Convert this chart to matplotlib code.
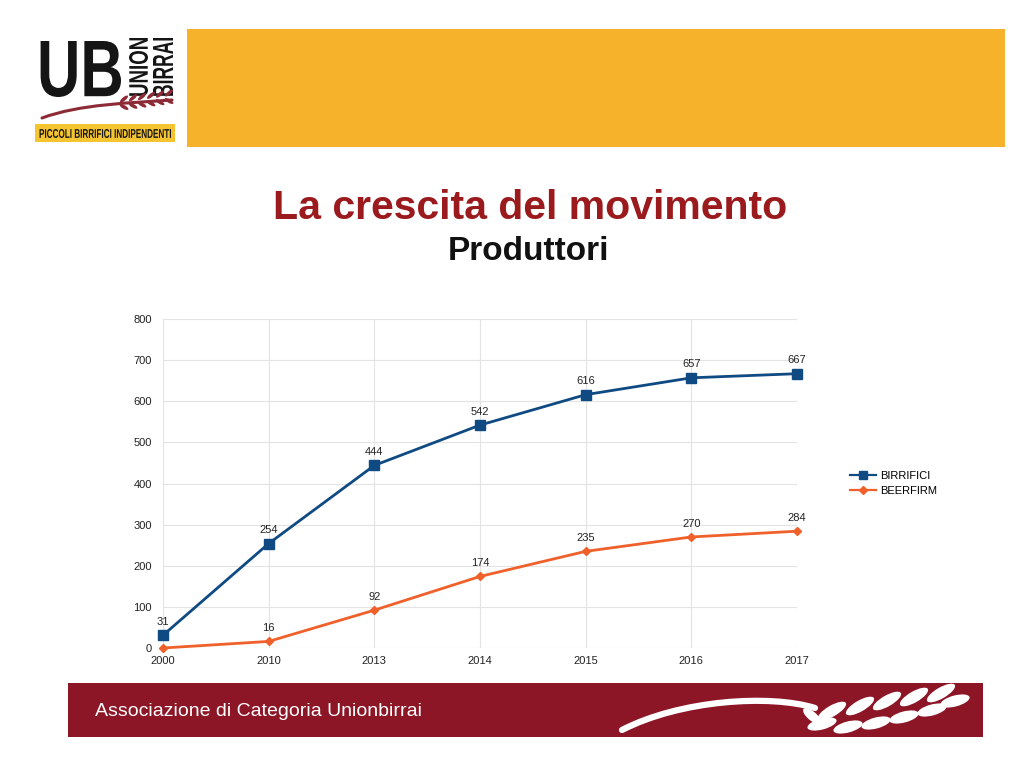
import matplotlib
matplotlib.use("Agg")
import matplotlib.pyplot as plt
from matplotlib.path import Path
from matplotlib.patches import PathPatch, Rectangle, Ellipse
from matplotlib.lines import Line2D
from matplotlib.textpath import TextPath
from matplotlib.font_manager import FontProperties
from matplotlib.transforms import Affine2D
import numpy as np

plt.rcParams['font.family'] = ['Liberation Sans', 'DejaVu Sans']

years = ["2000", "2010", "2013", "2014", "2015", "2016", "2017"]
birrifici = [31, 254, 444, 542, 616, 657, 667]
beerfirm = [0, 16, 92, 174, 235, 270, 284]
series_names = ["BIRRIFICI", "BEERFIRM"]
colors = ["#0f4a82", "#f0602a"]
y_ticks = [0, 100, 200, 300, 400, 500, 600, 700, 800]

W, H = 1024, 767
fig = plt.figure(figsize=(W / 100, H / 100), dpi=100)
fig.patch.set_facecolor("white")

# pixel coordinates with origin at the top-left corner
PX = Affine2D().scale(1 / W, -1 / H).translate(0, 1) + fig.transFigure


def fx(px):
    return px / W


def fy(py):
    return 1 - py / H


def add(patch):
    patch.set_transform(PX)
    fig.patches.append(patch)
    return patch


def fitted_text(s, x0, y0, x1, y1, color, rotate=0, weight="bold"):
    """Draw a string as a filled outline stretched into the pixel box."""
    tp = TextPath((0, 0), s, size=50, prop=FontProperties(family="Liberation Sans",
                                                           weight=weight))
    v = tp.vertices.copy()
    v[:, 1] = -v[:, 1]
    if rotate:
        th = np.deg2rad(rotate)
        R = np.array([[np.cos(th), -np.sin(th)], [np.sin(th), np.cos(th)]])
        v = v @ R.T
    mn, mx = v.min(axis=0), v.max(axis=0)
    v = (v - mn) / (mx - mn) * np.array([x1 - x0, y1 - y0]) + np.array([x0, y0])
    add(PathPatch(Path(v, tp.codes), facecolor=color, edgecolor="none", lw=0))


# Header band
add(Rectangle((187, 29), 818, 118, facecolor="#f5b22a", edgecolor="none"))

# Logo
fitted_text("UB", 37, 41, 121, 97, "#151515")
fitted_text("UNION", 129, 38, 148, 97, "#151515", rotate=-90)
fitted_text("BIRRAI", 153, 38, 173, 97, "#151515", rotate=-90)
add(Rectangle((35, 124), 140, 18, facecolor="#f5c431", edgecolor="none"))
fitted_text("PICCOLI BIRRIFICI INDIPENDENTI", 39, 129, 171, 138, "#151515")
add(PathPatch(Path([(42, 118), (80, 104), (130, 103), (172, 100)],
                   [Path.MOVETO, Path.CURVE4, Path.CURVE4, Path.CURVE4]),
              facecolor="none", edgecolor="#8c2a35", lw=2.2, capstyle="round"))
for i in range(6):
    cx, cy = 122 + i * 9, 103 - i * 1.2
    add(Ellipse((cx + 2, cy - 4), 10, 3.6, angle=-40, facecolor="#8c2a35", edgecolor="none"))
    add(Ellipse((cx + 2, cy + 4), 10, 3.6, angle=30, facecolor="#8c2a35", edgecolor="none"))

# Titles
fig.text(fx(530), fy(208), "La crescita del movimento", fontsize=29.5, fontweight="bold",
         color="#9a1a1d", ha="center", va="center")
fig.text(fx(529), fy(251), "Produttori", fontsize=24, fontweight="bold",
         color="#111111", ha="center", va="center")

# Chart
ax = fig.add_axes([fx(163), fy(648), fx(797) - fx(163), fy(319) - fy(648)])
ax.set_facecolor("white")
x = np.arange(len(years))

markers = ["s", "D"]
msizes = [6.5, 4.5]
for vals, col, mk, ms in zip([birrifici, beerfirm], colors, markers, msizes):
    ax.plot(x, vals, marker=mk, markersize=ms, color=col, lw=2, zorder=4, clip_on=False)
    for xi, v in zip(x, vals):
        ax.annotate(str(v), (xi, v), xytext=(0, 6), textcoords="offset points",
                    ha="center", va="bottom", fontsize=8, color="#222222")

ax.set_xlim(0, len(years) - 1)
ax.set_ylim(0, 800)
ax.set_xticks(x)
ax.set_xticklabels(years)
ax.set_yticks(y_ticks)
ax.tick_params(axis="both", length=0, labelsize=8, colors="#222222")
ax.tick_params(axis="x", pad=6)
ax.tick_params(axis="y", pad=8)
ax.grid(True, color="#e3e3e3", lw=0.8)
ax.set_axisbelow(True)
for s in ax.spines.values():
    s.set_visible(False)

handles = [Line2D([], [], color=c, marker=m, markersize=ms * 0.8, lw=1.6)
           for c, m, ms in zip(colors, markers, msizes)]
fig.legend(handles, series_names, loc="center left", bbox_to_anchor=(fx(840), fy(483)),
           frameon=False, fontsize=8, handlelength=2.3, labelspacing=0.45,
           handletextpad=0.4)

# Footer band with the white wheat ear
band = add(Rectangle((68, 683), 915, 54, facecolor="#8c1526", edgecolor="none"))
fig.text(fx(95), fy(711), "Associazione di Categoria Unionbirrai", fontsize=14,
         color="white", ha="left", va="center")
stem = Path([(622, 730), (680, 700), (770, 694), (815, 708)],
            [Path.MOVETO, Path.CURVE4, Path.CURVE4, Path.CURVE4])
add(PathPatch(stem, facecolor="none", edgecolor="white", lw=4.5, capstyle="round"))
upper = [(832, 711), (860, 706), (887, 701), (914, 697), (941, 693)]
lower = [(822, 724), (848, 727), (876, 723), (904, 717), (932, 710), (955, 701)]
grains = []
for cx, cy in upper:
    grains.append(add(Ellipse((cx, cy), 32, 11, angle=-30, facecolor="white",
                              edgecolor="none")))
for cx, cy in lower:
    grains.append(add(Ellipse((cx, cy), 30, 11, angle=-15, facecolor="white",
                              edgecolor="none")))
grains.append(add(Ellipse((812, 716), 22, 9, angle=40, facecolor="white", edgecolor="none")))
for g in grains:
    g.set_clip_path(band)

fig.savefig("out.png", dpi=100, facecolor="white")
